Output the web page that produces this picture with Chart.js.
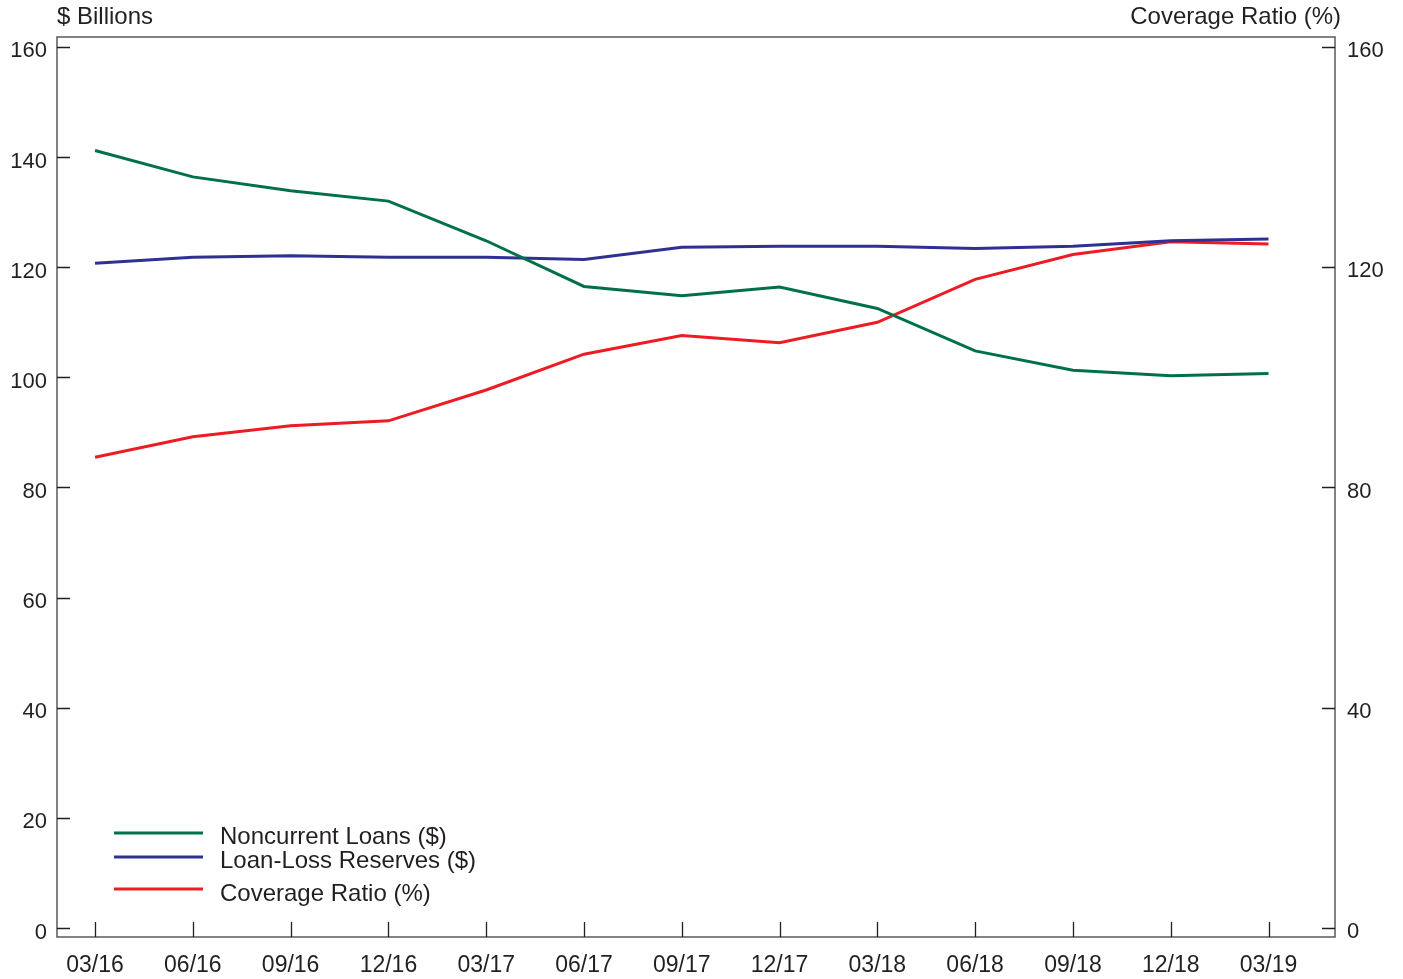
<!DOCTYPE html>
<html>
<head>
<meta charset="utf-8">
<script src="https://cdn.jsdelivr.net/npm/chart.js@4/dist/chart.umd.min.js"></script>
<style>
  html, body { margin: 0; padding: 0; background: #fff; }
  #wrap { width: 1403px; height: 979px; }
</style>
</head>
<body>
<div id="wrap"><canvas id="c" width="1403" height="979"></canvas></div>
<script>
// quarters on the x axis
const quarters = ['03/16','06/16','09/16','12/16','03/17','06/17','09/17','12/17','03/18','06/18','09/18','12/18','03/19'];

// $ billions (left axis)
const noncurrent = [141.2, 136.4, 133.9, 132.0, 124.8, 116.5, 114.8, 116.4, 112.5, 104.8, 101.3, 100.3, 100.7];
const reserves   = [120.7, 121.8, 122.1, 121.8, 121.8, 121.4, 123.6, 123.8, 123.8, 123.4, 123.8, 124.8, 125.1];
// percent (right axis)
const coverage   = [85.5, 89.2, 91.2, 92.1, 97.7, 104.2, 107.6, 106.3, 110.0, 117.8, 122.3, 124.6, 124.2];

const leftTicks  = [0, 20, 40, 60, 80, 100, 120, 140, 160];
const rightTicks = [0, 40, 80, 120, 160];

const seriesNames = ['Noncurrent Loans ($)', 'Loan-Loss Reserves ($)', 'Coverage Ratio (%)'];
const colors = ['#00704a', '#2e3192', '#ed1c24'];

const ink = '#231f20';
const frame = '#5a5a5c';
const FONT = "'Liberation Sans', Arial, Helvetica, sans-serif";

function pts(arr) { return arr.map((v, i) => ({ x: i, y: v })); }

// frame, inward ticks, y labels, axis titles and legend
const decor = {
  id: 'decor',
  afterDraw(chart) {
    const ctx = chart.ctx;
    const a = chart.chartArea;
    const sx = chart.scales.x, yl = chart.scales.yL, yr = chart.scales.yR;
    ctx.save();
    ctx.strokeStyle = frame;
    ctx.lineWidth = 1.5;
    ctx.strokeRect(a.left, a.top, a.right - a.left, a.bottom - a.top);

    ctx.strokeStyle = ink;
    ctx.lineWidth = 1.3;
    ctx.beginPath();
    leftTicks.forEach(v => {
      const y = Math.round(yl.getPixelForValue(v)) + 0.5;
      ctx.moveTo(a.left, y); ctx.lineTo(a.left + 13, y);
    });
    rightTicks.forEach(v => {
      const y = Math.round(yr.getPixelForValue(v)) + 0.5;
      ctx.moveTo(a.right, y); ctx.lineTo(a.right - 13, y);
    });
    quarters.forEach((q, i) => {
      const x = Math.round(sx.getPixelForValue(i)) + 0.5;
      ctx.moveTo(x, a.bottom); ctx.lineTo(x, a.bottom - 15);
    });
    ctx.stroke();

    ctx.fillStyle = ink;
    ctx.textBaseline = 'middle';
    ctx.font = '22px ' + FONT;
    ctx.textAlign = 'right';
    leftTicks.forEach(v => ctx.fillText(String(v), 47, yl.getPixelForValue(v) + 4.5));
    ctx.textAlign = 'left';
    rightTicks.forEach(v => ctx.fillText(String(v), 1347, yr.getPixelForValue(v) + 4));

    ctx.font = '24px ' + FONT;
    ctx.textAlign = 'left';
    ctx.fillText('$ Billions', 57, 17);
    ctx.textAlign = 'right';
    ctx.fillText('Coverage Ratio (%)', 1341, 17);

    // legend
    const rows = [833, 857, 889];
    const textY = [837, 861, 894];
    ctx.textAlign = 'left';
    chart.data.datasets.forEach((ds, i) => {
      ctx.strokeStyle = ds.borderColor;
      ctx.lineWidth = 3;
      ctx.beginPath();
      ctx.moveTo(114, rows[i]); ctx.lineTo(203, rows[i]);
      ctx.stroke();
      ctx.fillStyle = ink;
      ctx.fillText(ds.label, 220, textY[i]);
    });
    ctx.restore();
  }
};

new Chart(document.getElementById('c'), {
  type: 'line',
  data: {
    datasets: [
      { label: seriesNames[0], data: pts(noncurrent), borderColor: colors[0], yAxisID: 'yL' },
      { label: seriesNames[1], data: pts(reserves),   borderColor: colors[1], yAxisID: 'yL' },
      { label: seriesNames[2], data: pts(coverage),   borderColor: colors[2], yAxisID: 'yR' }
    ]
  },
  options: {
    responsive: false,
    animation: false,
    devicePixelRatio: 1,
    layout: { padding: { top: 37, left: 0, right: 0, bottom: 0 } },
    elements: {
      line: { borderWidth: 3, tension: 0 },
      point: { radius: 0, hoverRadius: 0 }
    },
    plugins: { legend: { display: false }, tooltip: { enabled: false } },
    scales: {
      x: {
        type: 'linear',
        min: -0.389,
        max: 12.68,
        afterBuildTicks: s => { s.ticks = quarters.map((q, i) => ({ value: i })); },
        afterFit: s => { s.height = 42; },
        grid: { display: false, drawTicks: false },
        border: { display: false },
        ticks: {
          autoSkip: false,
          maxRotation: 0,
          padding: 15,
          color: ink,
          font: { family: FONT, size: 23 },
          callback: v => quarters[v]
        }
      },
      yL: {
        position: 'left',
        min: -1.63,
        max: 161.8,
        afterBuildTicks: s => { s.ticks = leftTicks.map(v => ({ value: v })); },
        afterFit: s => { s.width = 57; },
        grid: { display: false, drawTicks: false },
        border: { display: false },
        ticks: { display: false }
      },
      yR: {
        position: 'right',
        min: -1.63,
        max: 161.8,
        afterBuildTicks: s => { s.ticks = rightTicks.map(v => ({ value: v })); },
        afterFit: s => { s.width = 68; },
        grid: { display: false, drawTicks: false },
        border: { display: false },
        ticks: { display: false }
      }
    }
  },
  plugins: [decor]
});
</script>
</body>
</html>
